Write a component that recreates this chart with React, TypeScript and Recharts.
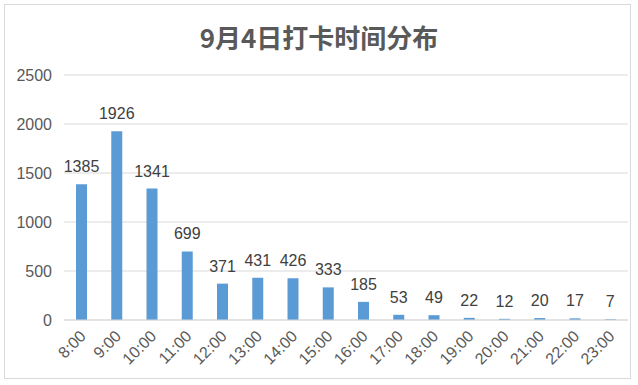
import React from "react";
import { BarChart, Bar, XAxis, YAxis, CartesianGrid, LabelList } from "recharts";

const hours = ["8:00", "9:00", "10:00", "11:00", "12:00", "13:00", "14:00", "15:00", "16:00", "17:00", "18:00", "19:00", "20:00", "21:00", "22:00", "23:00"];
const counts = [1385, 1926, 1341, 699, 371, 431, 426, 333, 185, 53, 49, 22, 12, 20, 17, 7];
const yTicks = [0, 500, 1000, 1500, 2000, 2500];

const data = hours.map((hour, i) => ({ hour, count: counts[i] }));

const numFont = "'Liberation Sans', Arial, sans-serif";

function HourTick({ x, y, payload }: any) {
  return (
    <g transform={`translate(${x + 1},${y + 5})`}>
      <text
        textAnchor="end"
        transform="rotate(-45)"
        fill="#595959"
        fontSize={16}
        fontFamily={numFont}
        dy={6}
      >
        {payload.value}
      </text>
    </g>
  );
}

export default function App() {
  return (
    <div style={{ position: "absolute", left: 0, top: 0, width: 638, height: 385, background: "#fff" }}>
      <div
        style={{
          position: "absolute",
          left: 4,
          top: 4,
          width: 627,
          height: 375,
          border: "1px solid #d9d9d9",
          boxSizing: "border-box",
        }}
      />
      <div
        style={{
          position: "absolute",
          left: 0,
          top: 20,
          width: 638,
          textAlign: "center",
          fontFamily: "'Noto Sans CJK SC', sans-serif",
          fontWeight: 700,
          fontSize: 26,
          color: "#595959",
          lineHeight: "34px",
        }}
      >
        9月4日打卡时间分布
      </div>
      <div style={{ position: "absolute", left: 0, top: 0 }}>
        <BarChart width={638} height={385} data={data} margin={{ top: 75, right: 10, bottom: 0, left: 0 }} barSize={11}>
          <CartesianGrid vertical={false} stroke="#d9d9d9" />
          <XAxis
            dataKey="hour"
            interval={0}
            height={65}
            tickLine={false}
            axisLine={{ stroke: "#d9d9d9" }}
            tick={<HourTick />}
          />
          <YAxis
            width={64}
            domain={[0, 2500]}
            ticks={yTicks}
            tickLine={false}
            axisLine={false}
            tickSize={0}
            tickMargin={12}
            tick={{ fill: "#595959", fontSize: 16, fontFamily: numFont }}
          />
          <Bar dataKey="count" fill="#5b9bd5" isAnimationActive={false}>
            <LabelList
              dataKey="count"
              position="top"
              offset={12}
              fill="#404040"
              fontSize={16}
              fontFamily={numFont}
            />
          </Bar>
        </BarChart>
      </div>
    </div>
  );
}
